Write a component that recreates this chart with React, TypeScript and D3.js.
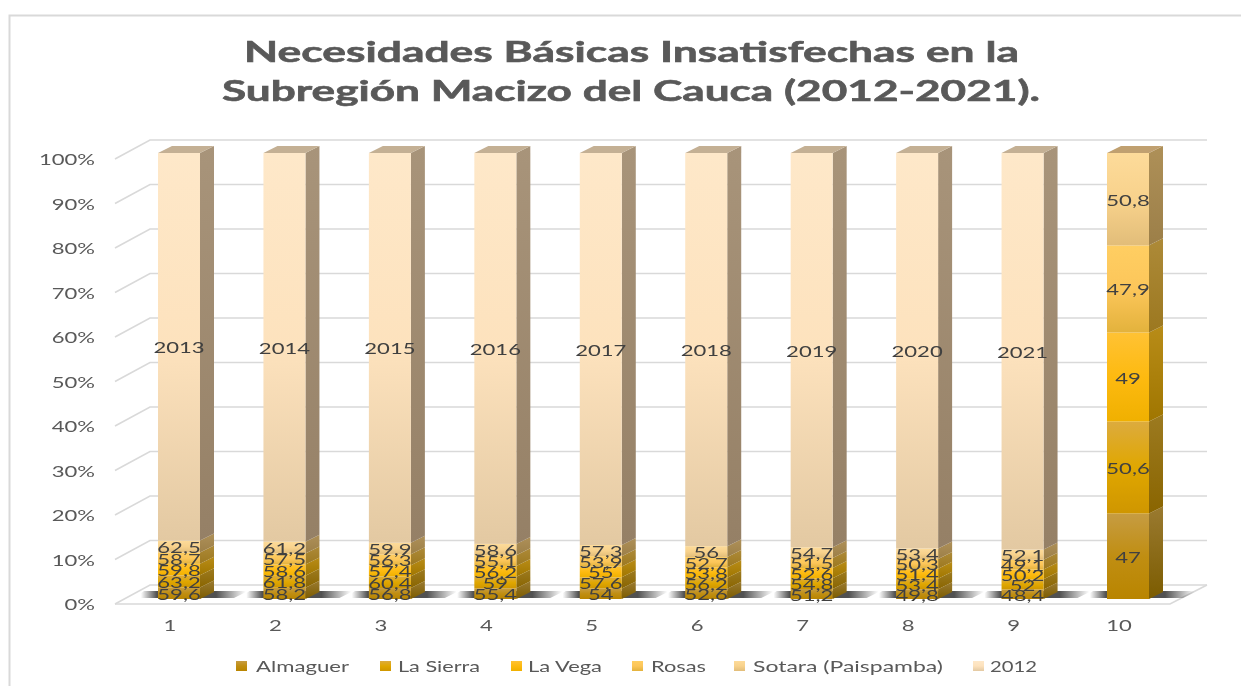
import React from "react";
import * as d3 from "d3";

const categories = ["1", "2", "3", "4", "5", "6", "7", "8", "9", "10"];
const seriesNames = ["Almaguer", "La Sierra", "La Vega", "Rosas", "Sotara (Paispamba)", "2012"];
const almaguer = [59.6, 58.2, 56.8, 55.4, 54, 52.6, 51.2, 49.8, 48.4, 47];
const laSierra = [63.2, 61.8, 60.4, 59, 57.6, 56.2, 54.8, 53.4, 52, 50.6];
const laVega = [59.8, 58.6, 57.4, 56.2, 55, 53.8, 52.6, 51.4, 50.2, 49];
const rosas = [58.7, 57.5, 56.3, 55.1, 53.9, 52.7, 51.5, 50.3, 49.1, 47.9];
const sotara = [62.5, 61.2, 59.9, 58.6, 57.3, 56, 54.7, 53.4, 52.1, 50.8];
const y2012 = [2013, 2014, 2015, 2016, 2017, 2018, 2019, 2020, 2021, 0];
const seriesValues = [almaguer, laSierra, laVega, rosas, sotara, y2012];
const yTicks = [0, 0.1, 0.2, 0.3, 0.4, 0.5, 0.6, 0.7, 0.8, 0.9, 1];
const titleLines = ["Necesidades Básicas Insatisfechas en la", "Subregión Macizo del Cauca (2012-2021)."];

// [top, middle, bottom] gradient stops for each series' front face
const frontColors = [
  ["#c69c42", "#c08e12", "#b98500"],
  ["#dcab3e", "#e0a700", "#cf9600"],
  ["#ffc234", "#fdba10", "#f0b000"],
  ["#ffce62", "#fcc65a", "#e3b23c"],
  ["#fddb9a", "#f8d28c", "#e2bd79"],
  ["#fee8c9", "#fde2bd", "#e3c9a2"],
];
const sideColors = [
  ["#9a7a30", "#7c5c00"],
  ["#9c7a20", "#8a6500"],
  ["#b88c18", "#a07600"],
  ["#ad8a38", "#9c7820"],
  ["#ae9058", "#9c7f48"],
  ["#a8947a", "#958066"],
];
const topColors = ["#c69c42", "#dcab3e", "#ffc234", "#d8b070", "#c0a070", "#c4b094"];

const WIDTH = 1241;
const HEIGHT = 686;
const BAR_W = 42;
const DX = 14;
const DY = 7;

const xScale = d3.scaleLinear().domain([0, 9]).range([158, 1107]);
const yScale = d3.scaleLinear().domain([0, 1]).range([599, 153]);
const wallY = d3.scaleLinear().domain([0, 1]).range([585, 140]);
const tickY = d3.scaleLinear().domain([0, 1]).range([604, 159]);

const rows = categories.map((c, i) => {
  const r: Record<string, number> = {};
  seriesNames.forEach((s, j) => (r[s] = seriesValues[j][i]));
  return r;
});
const stacked = d3.stack<Record<string, number>>().keys(seriesNames).offset(d3.stackOffsetExpand)(rows);

const fmt = (v: number, s: number) => (s === 5 ? String(v) : String(v).replace(".", ","));

const TXT = "Lato, 'Open Sans', sans-serif";

function Stretched(props: { x: number; y: number; sx?: number; size?: number; anchor?: string; fill?: string; children: React.ReactNode }) {
  const { x, y, sx = 1.38, size = 16, anchor = "middle", fill = "#595959", children } = props;
  return (
    <text transform={`translate(${x},${y}) scale(${sx},1)`} fontFamily={TXT} fontSize={size} textAnchor={anchor as any} fill={fill}>
      {children}
    </text>
  );
}

const legendItems = [
  { sw: 236, tx: 256, end: 349 },
  { sw: 380, tx: 398, end: 480 },
  { sw: 511, tx: 528, end: 602 },
  { sw: 632, tx: 651, end: 706 },
  { sw: 734, tx: 753, end: 943 },
  { sw: 973, tx: 990, end: 1037 },
];

export default function App() {
  return (
    <svg
      width={WIDTH}
      height={HEIGHT}
      viewBox={`0 0 ${WIDTH} ${HEIGHT}`}
      style={{ position: "fixed", left: 0, top: 0, display: "block", background: "#fff", filter: "blur(0.45px)" }}
    >
      <defs>
        {frontColors.map((c, i) => (
          <linearGradient key={i} id={`front${i}`} x1="0" y1="0" x2="0" y2="1">
            <stop offset="0" stopColor={c[0]} />
            <stop offset="0.5" stopColor={c[1]} />
            <stop offset="1" stopColor={c[2]} />
          </linearGradient>
        ))}
        {sideColors.map((c, i) => (
          <linearGradient key={i} id={`side${i}`} x1="0" y1="0" x2="0" y2="1">
            <stop offset="0" stopColor={c[0]} />
            <stop offset="1" stopColor={c[1]} />
          </linearGradient>
        ))}
        <linearGradient id="shadow" x1="0" y1="0" x2="1" y2="0">
          <stop offset="0.06" stopColor="#484848" stopOpacity="0" />
          <stop offset="0.2" stopColor="#484848" stopOpacity="0.95" />
          <stop offset="0.72" stopColor="#484848" stopOpacity="0.95" />
          <stop offset="0.98" stopColor="#484848" stopOpacity="0" />
        </linearGradient>
      </defs>

      {/* frame */}
      <path d={`M9.5,${HEIGHT} V15.5 H${WIDTH}`} fill="none" stroke="#d9d9d9" strokeWidth={2} />

      {/* title */}
      {titleLines.map((t, i) => (
        <text
          key={i}
          x={i === 0 ? 244 : 222}
          y={i === 0 ? 62 : 101}
          textLength={i === 0 ? 775 : 818}
          lengthAdjust="spacingAndGlyphs"
          fontFamily={TXT}
          fontWeight={700}
          fontSize={29}
          fill="#595959"
          stroke="#595959"
          strokeWidth={0.6}
        >
          {t}
        </text>
      ))}

      {/* walls */}
      {yTicks.map((t) => (
        <path key={t} d={`M115,${tickY(t)} L150,${wallY(t)} H1207`} stroke="#d9d9d9" strokeWidth={1.6} fill="none" />
      ))}
      <path d={`M115,604 H1170 L1207,585`} fill="none" stroke="#d9d9d9" strokeWidth={1.6} />

      {/* y tick labels */}
      {yTicks.map((t) => (
        <Stretched key={t} x={95} y={tickY(t) + 6} anchor="end">
          {`${Math.round(t * 100)}%`}
        </Stretched>
      ))}

      {/* floor shadow */}
      {categories.map((c, i) => {
        const x = xScale(i);
        return (
          <path
            key={c}
            d={`M${x - 24},598 L${x - 14},591 H${x + BAR_W + 48} L${x + BAR_W + 34},598 Z`}
            fill="url(#shadow)"
          />
        );
      })}

      {/* bars */}
      {categories.map((c, i) => {
        const x = xScale(i);
        const topIdx = seriesNames.reduce((acc, _, j) => (seriesValues[j][i] > 0 ? j : acc), 0);
        const top = yScale(stacked[topIdx][i][1]);
        return (
          <g key={c}>
            {stacked.map((layer, s) => {
              const y0 = yScale(layer[i][0]);
              const y1 = yScale(layer[i][1]);
              if (seriesValues[s][i] <= 0) return null;
              return (
                <g key={s}>
                  <path
                    d={`M${x + BAR_W},${y0} L${x + BAR_W + DX},${y0 - DY} V${y1 - DY} L${x + BAR_W},${y1} Z`}
                    fill={`url(#side${s})`}
                  />
                  <rect x={x} y={y1} width={BAR_W} height={y0 - y1} fill={`url(#front${s})`} />
                </g>
              );
            })}
            <path
              d={`M${x},${top} L${x + DX},${top - DY} H${x + BAR_W + DX} L${x + BAR_W},${top} Z`}
              fill={topColors[topIdx]}
            />
          </g>
        );
      })}

      {/* data labels */}
      {categories.map((c, i) =>
        stacked.map((layer, s) =>
          seriesValues[s][i] > 0 ? (
            <Stretched
              key={`${c}-${s}`}
              x={xScale(i) + BAR_W / 2}
              y={(yScale(layer[i][0]) + yScale(layer[i][1])) / 2 + 6.5}
              fill="#404040"
            >
              {fmt(seriesValues[s][i], s)}
            </Stretched>
          ) : null
        )
      )}

      {/* category labels */}
      {categories.map((c, i) => (
        <Stretched key={c} x={xScale(i) + 12} y={631}>
          {c}
        </Stretched>
      ))}

      {/* legend */}
      {seriesNames.map((n, i) => (
        <g key={n}>
          <rect x={legendItems[i].sw} y={661} width={11} height={10} fill={`url(#front${i})`} />
          <text
            x={legendItems[i].tx}
            y={672}
            textLength={legendItems[i].end - legendItems[i].tx}
            lengthAdjust="spacingAndGlyphs"
            fontFamily={TXT}
            fontSize={16}
            fill="#595959"
          >
            {n}
          </text>
        </g>
      ))}
    </svg>
  );
}
